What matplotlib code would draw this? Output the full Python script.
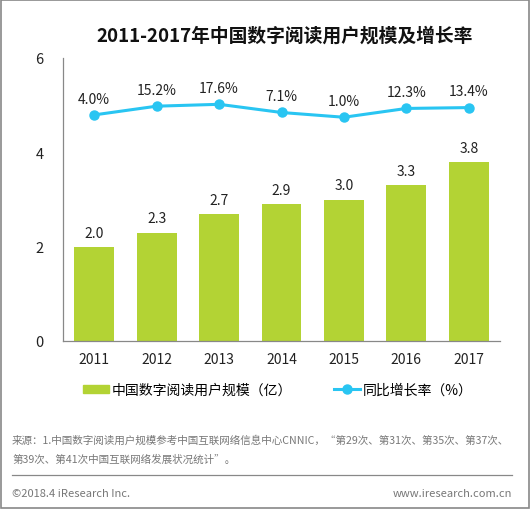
import matplotlib
matplotlib.use("Agg")
import matplotlib.pyplot as plt
from matplotlib.lines import Line2D
from matplotlib.patches import Rectangle

plt.rcParams['font.family'] = ['Noto Sans CJK SC', 'DejaVu Sans']

years = ['2011', '2012', '2013', '2014', '2015', '2016', '2017']
users = [2.0, 2.3, 2.7, 2.9, 3.0, 3.3, 3.8]
growth = [4.0, 15.2, 17.6, 7.1, 1.0, 12.3, 13.4]
yticks = [0, 2, 4, 6]

bar_color = '#b3d334'
line_color = '#29c5f2'

fig = plt.figure(figsize=(5.3, 5.1), dpi=100)
W, H = 530, 510
ax = fig.add_axes([63 / W, 1 - 342 / H, 437 / W, (342 - 59) / H])

x = list(range(len(years)))
ax.bar(x, users, width=0.64, color=bar_color, zorder=2)
for xi, v in zip(x, users):
    ax.text(xi, v + 0.15, f'{v:.1f}', ha='center', va='bottom', fontsize=10, color='#222222')

ax.set_xlim(-0.5, len(years) - 0.5)
ax.set_ylim(0, 6)
ax.set_yticks(yticks)
ax.set_yticklabels([str(t) for t in yticks], fontsize=10.5, color='#222222')
ax.set_xticks(x)
ax.set_xticklabels(years, fontsize=10, color='#222222')
ax.tick_params(axis='both', length=0)
ax.tick_params(axis='y', pad=14)
ax.tick_params(axis='x', pad=8)
for s in ['top', 'right']:
    ax.spines[s].set_visible(False)
for s in ['left', 'bottom']:
    ax.spines[s].set_color('#888888')
    ax.spines[s].set_linewidth(0.9)

ax2 = ax.twinx()
ax2.plot(x, growth, color=line_color, lw=2.2, marker='o', ms=6.5, zorder=3)
ax2.set_ylim(-286, 77)
ax2.axis('off')
for xi, g in zip(x, growth):
    ax2.text(xi, g + 12, f'{g:.1f}%', ha='center', va='bottom', fontsize=10, color='#222222')

fig.text(285 / W, 1 - 36 / H, '2011-2017年中国数字阅读用户规模及增长率', ha='center', va='center',
         fontsize=13.5, fontweight='bold', color='#111111')

# legend
h1 = Rectangle((0, 0), 1, 1, color=bar_color)
h2 = Line2D([0], [0], color=line_color, lw=2.2, marker='o', ms=6.5)
fig.legend([h1, h2], ['中国数字阅读用户规模（亿）', '同比增长率（%）'], loc='center',
           bbox_to_anchor=(278 / W, 1 - 391 / H), ncol=2, frameon=False, fontsize=10,
           columnspacing=3.0, handlelength=1.9, handletextpad=0.2, handleheight=0.55)

fig.text(12 / W, 1 - 441 / H,
         '来源：1.中国数字阅读用户规模参考中国互联网络信息中心CNNIC，“第29次、第31次、第35次、第37次、',
         ha='left', va='center', fontsize=7.6, color='#777777')
fig.text(12 / W, 1 - 460 / H, '第39次、第41次中国互联网络发展状况统计”。',
         ha='left', va='center', fontsize=7.6, color='#777777')
fig.add_artist(Line2D([12 / W, 512 / W], [1 - 476 / H, 1 - 476 / H], color='#888888', lw=0.9))
fig.text(12 / W, 1 - 494 / H, '©2018.4 iResearch Inc.', ha='left', va='center', fontsize=8, color='#777777')
fig.text(512 / W, 1 - 494 / H, 'www.iresearch.com.cn', ha='right', va='center', fontsize=8, color='#777777')

fig.add_artist(Rectangle((0.001, 0.001), 0.997, 0.997, transform=fig.transFigure, fill=False,
                         edgecolor='#888888', lw=1.2))

fig.savefig('out.png', dpi=100)
